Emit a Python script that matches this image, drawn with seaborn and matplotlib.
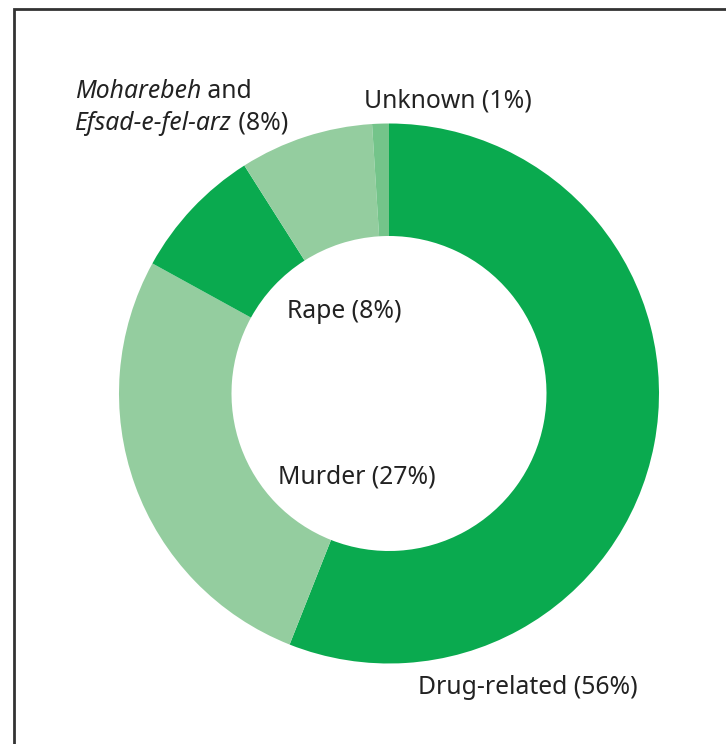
import matplotlib
matplotlib.use("Agg")
import matplotlib.pyplot as plt
import seaborn as sns
from matplotlib.lines import Line2D

categories = ["Drug-related", "Murder", "Rape", "Moharebeh and Efsad-e-fel-arz", "Unknown"]
values = [56, 27, 8, 8, 1]
colors = ["#0AAA4F", "#94CD9F", "#0AAA4F", "#94CD9F", "#74C48A"]

sns.set_theme(style="white")
plt.rcParams['font.family'] = ['Noto Sans', 'DejaVu Sans']

W, H = 726, 744
fig = plt.figure(figsize=(W / 100, H / 100), dpi=100)
fig.patch.set_facecolor("white")
ax = fig.add_axes([0, 0, 1, 1])

cx, cy = 389, H - 393.5
r = 270
ax.pie(values, colors=colors, startangle=90, counterclock=False,
       center=(cx, cy), radius=r, frame=True,
       wedgeprops=dict(width=112.5, edgecolor="none", linewidth=0))
ax.set_xlim(0, W)
ax.set_ylim(0, H)
ax.set_aspect("equal")
ax.axis("off")

# frame border
fig.add_artist(Line2D([14 / W, 14 / W, 1.0], [0.0, 1 - 9 / H, 1 - 9 / H],
                      transform=fig.transFigure, color="#333333", lw=2.0,
                      solid_joinstyle="miter"))

tc = "#222222"
fs = 17.8
ax.text(448, H - 101, "Unknown (1%)", ha="center", va="center", fontsize=fs, color=tc)
m1 = ax.text(75, H - 92, "Moharebeh", ha="left", va="center", fontsize=fs,
             color=tc, style="italic")
ax.annotate(" and", xy=(1, 0.5), xycoords=m1, ha="left", va="center",
            fontsize=fs, color=tc)
t1 = ax.text(75, H - 123, "Efsad-e-fel-arz", ha="left", va="center", fontsize=fs,
             color=tc, style="italic")
ax.annotate(" (8%)", xy=(1, 0.5), xycoords=t1, ha="left", va="center",
            fontsize=fs, color=tc)
ax.text(344, H - 312, "Rape (8%)", ha="center", va="center", fontsize=fs, color=tc)
ax.text(356.5, H - 477, "Murder (27%)", ha="center", va="center", fontsize=fs, color=tc)
ax.text(528, H - 688, "Drug-related (56%)", ha="center", va="center", fontsize=fs, color=tc)

fig.savefig("out.png", dpi=100, facecolor="white")
